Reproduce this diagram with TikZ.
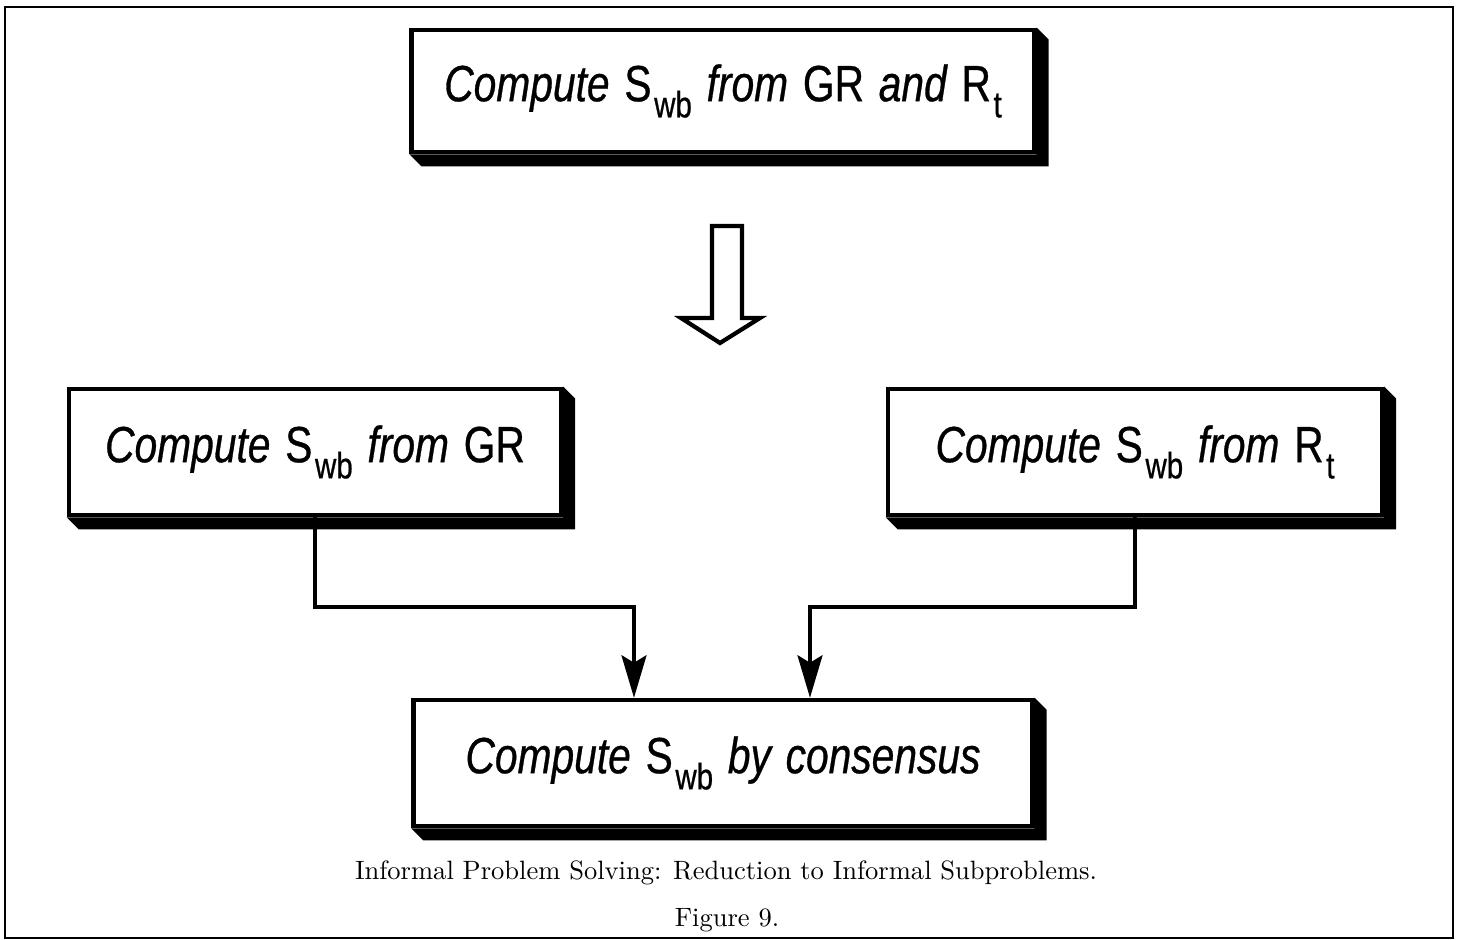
\documentclass[tikz,border=0pt]{standalone}
\usepackage{fontspec}
\newfontfamily\boxfont[FakeStretch=0.8, WordSpace=1.3, FakeBold=0.6]{Liberation Sans}
\newfontfamily\capfont[Extension=.otf]{lmroman10-regular}
\usetikzlibrary{arrows.meta, calc}
\newcommand\lowsub[1]{\raisebox{-0.6ex}{\kern1.5pt\fontsize{21pt}{21pt}\selectfont\upshape #1}}
\newcommand\up[1]{{\upshape #1}}

\begin{document}
\begin{tikzpicture}[
    x=0.02cm, y=-0.02cm,
    box/.style={rectangle, draw=black, line width=2.6pt, fill=white, font=\boxfont\itshape\fontsize{29pt}{34pt}\selectfont},
    shade3d/.style={fill=black},
    conn/.style={line width=2pt, -{Stealth[length=8.5mm, width=5mm, inset=1.5mm]}},
    hollow/.style={line width=2.4pt, line join=miter},
    caption/.style={font=\capfont\fontsize{15.1pt}{18pt}\selectfont}
]
\useasboundingbox (0,0) rectangle (1461,940);
\draw[line width=0.8pt] (5,7) rectangle (1453,938);

% Boxes
\node[box, minimum width=12.46cm, minimum height=2.44cm] (task) at (723,91)
    {Compute \up{S}\lowsub{wb} from \up{GR} and \up{R}\lowsub{t}};
\node[box, minimum width=9.84cm, minimum height=2.52cm] (fromgr) at (315,452)
    {Compute \up{S}\lowsub{wb} from \up{GR}};
\node[box, minimum width=9.88cm, minimum height=2.52cm] (fromrt) at (1135,452)
    {Compute \up{S}\lowsub{wb} from \up{R}\lowsub{t}};
\node[box, minimum width=12.38cm, minimum height=2.52cm] (cons) at (723,763)
    {Compute \up{S}\lowsub{wb} by consensus};

% 3D edges
\foreach \n in {task, fromgr, fromrt, cons}
    \fill[shade3d] (\n.north east) -- ++(12,12) -- ($(\n.south east)+(12,12)$)
        -- ($(\n.south west)+(12,12)$) -- (\n.south west) -- (\n.south east) -- cycle;

% Reduction arrow
\draw[hollow] (712,226) -- (742,226) -- (742,318) -- (760,318) -- (720,343)
    -- (681,318) -- (712,318) -- cycle;

% Connectors
\coordinate (lbend) at (634,607);
\coordinate (rbend) at (810,607);
\draw[conn] (fromgr.south) |- (lbend) -- (cons.north -| lbend);
\draw[conn] (fromrt.south) |- (rbend) -- (cons.north -| rbend);

% Caption
\node[caption] (cap) at (726,873)
    {Informal Problem Solving: Reduction to Informal Subproblems.};
\node[caption] (fig) at (727,920) {Figure 9.};
\end{tikzpicture}
\end{document}
